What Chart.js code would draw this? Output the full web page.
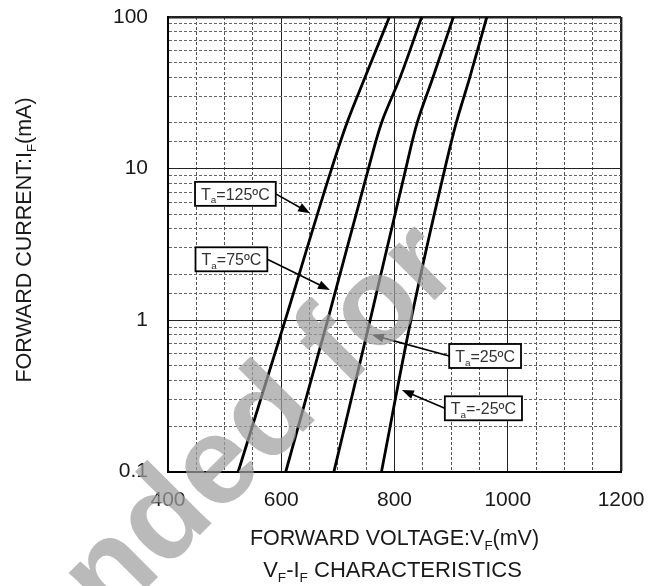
<!DOCTYPE html>
<html>
<head>
<meta charset="utf-8">
<script src="https://cdn.jsdelivr.net/npm/chart.js@4/dist/chart.umd.min.js"></script>
<style>
  html, body { margin: 0; padding: 0; background: #fff; }
  #wrap { width: 666px; height: 586px; }
</style>
</head>
<body>
<div id="wrap"><canvas id="vfif" width="666" height="586"></canvas></div>
<script>
// forward current points (mA), shared by every curve
var currentMA = [0.1, 1, 10, 20, 40, 100];
// forward voltage (mV) at those currents
var vf125 = [524, 607, 689, 716, 748, 791];
var vf75 = [608, 682, 754, 777, 810, 848];
var vf25 = [693, 757, 820, 840, 868, 904];
var vfMinus25 = [777, 829, 889, 909, 933, 963];
var tempLabels = ["125", "75", "25", "-25"];
// tick labels
var xTickLabels = [400, 600, 800, 1000, 1200];
var yTickLabels = [0.1, 1, 10, 100];

var FONT = "'Liberation Sans', Arial, sans-serif";
var INK = "#1a1a1a";

function toPoints(vf) {
  return vf.map(function(v, i) { return { x: v, y: currentMA[i] }; });
}

// where the call-out boxes sit and where their arrows point (data units)
var callouts = [
  { box: [519, 6.81], tip: [651, 5.08] },
  { box: [512, 2.52], tip: [686, 1.58] },
  { box: [960, 0.58], tip: [760, 0.80] },
  { box: [957, 0.262], tip: [813, 0.346] }
];

function isDecade(v) {
  var l = Math.log10(v);
  return Math.abs(l - Math.round(l)) < 1e-6;
}

// draw a run of text pieces, some of them subscripts
function runWidth(ctx, parts, size) {
  var w = 0;
  parts.forEach(function(p) {
    ctx.font = (p.sub ? size * 0.62 : size) + "px " + FONT;
    w += ctx.measureText(p.t).width;
  });
  return w;
}
function drawRun(ctx, parts, x, y, size) {
  var cx = x;
  parts.forEach(function(p) {
    ctx.font = (p.sub ? size * 0.62 : size) + "px " + FONT;
    ctx.fillText(p.t, cx, p.sub ? y + size * 0.22 : y);
    cx += ctx.measureText(p.t).width;
  });
}

var textPlugin = {
  id: "texts",
  afterDatasetsDraw: function(chart) {
    var ctx = chart.ctx;
    var xs = chart.scales.x, ys = chart.scales.y;
    ctx.save();
    callouts.forEach(function(c, i) {
      var bx = xs.getPixelForValue(c.box[0]);
      var by = ys.getPixelForValue(c.box[1]);
      var tx = xs.getPixelForValue(c.tip[0]);
      var ty = ys.getPixelForValue(c.tip[1]);
      var parts = [{ t: "T" }, { t: "a", sub: true }, { t: "=" + tempLabels[i] + "\u00baC" }];
      var tw = runWidth(ctx, parts, 16);
      var w = tw + 12, h = 24;
      var left = bx - w / 2, top = by - h / 2;
      var sx = tx > bx ? left + w : left;
      // arrow shaft
      ctx.strokeStyle = "#000";
      ctx.lineWidth = 1.6;
      var ang = Math.atan2(ty - by, tx - sx);
      var hl = 12, hw = 4.5;
      ctx.beginPath();
      ctx.moveTo(sx, by);
      ctx.lineTo(tx - Math.cos(ang) * hl * 0.8, ty - Math.sin(ang) * hl * 0.8);
      ctx.stroke();
      ctx.fillStyle = "#000";
      ctx.beginPath();
      ctx.moveTo(tx, ty);
      ctx.lineTo(tx - Math.cos(ang) * hl - Math.sin(ang) * hw, ty - Math.sin(ang) * hl + Math.cos(ang) * hw);
      ctx.lineTo(tx - Math.cos(ang) * hl + Math.sin(ang) * hw, ty - Math.sin(ang) * hl - Math.cos(ang) * hw);
      ctx.closePath();
      ctx.fill();
      // box
      ctx.fillStyle = "#fff";
      ctx.fillRect(left, top, w, h);
      ctx.lineWidth = 1.8;
      ctx.strokeRect(left, top, w, h);
      ctx.fillStyle = "#333";
      ctx.textBaseline = "alphabetic";
      ctx.textAlign = "left";
      drawRun(ctx, parts, left + 6, top + 18, 16);
    });
    ctx.restore();
  },
  afterDraw: function(chart) {
    var ctx = chart.ctx;
    var area = chart.chartArea;
    var cx = (area.left + area.right) / 2;
    ctx.save();
    ctx.fillStyle = INK;
    ctx.textAlign = "left";
    ctx.textBaseline = "alphabetic";
    var xt = [{ t: "FORWARD VOLTAGE:V" }, { t: "F", sub: true }, { t: "(mV)" }];
    var w = runWidth(ctx, xt, 21.5);
    drawRun(ctx, xt, cx - w / 2, 545, 21.5);
    var tt = [{ t: "V" }, { t: "F", sub: true }, { t: "-I" }, { t: "F", sub: true }, { t: " CHARACTERISTICS" }];
    w = runWidth(ctx, tt, 22);
    drawRun(ctx, tt, cx - 2 - w / 2, 577, 22);
    // y title, rotated
    ctx.translate(31, 240);
    ctx.rotate(-Math.PI / 2);
    var yt = [{ t: "FORWARD CURRENT:I" }, { t: "F", sub: true }, { t: "(mA)" }];
    w = runWidth(ctx, yt, 21.5);
    drawRun(ctx, yt, -w / 2, 0, 21.5);
    ctx.restore();

    // watermark over everything
    ctx.save();
    ctx.translate(463, 272);
    ctx.rotate(-Math.PI / 4);
    ctx.font = "bold 125px " + FONT;
    ctx.fillStyle = "rgba(160,160,160,0.72)";
    ctx.textAlign = "right";
    ctx.textBaseline = "alphabetic";
    ctx.fillText("Recommended for", 0, 0);
    ctx.restore();
  }
};

var lineStyle = {
  showLine: true,
  indexAxis: "y",
  borderColor: "#000",
  borderWidth: 2.8,
  pointRadius: 0,
  cubicInterpolationMode: "monotone",
  fill: false
};

function dashFor(major) {
  return function(c) { return c.tick && !major(c.tick.value) ? [3, 2] : []; };
}
var xMajor = function(v) { return v % 200 === 0; };

var dataGraph = {
  type: "scatter",
  data: {
    datasets: [vf125, vf75, vf25, vfMinus25].map(function(vf, i) {
      return Object.assign({ label: "Ta=" + tempLabels[i] + "\u00baC", data: toPoints(vf) }, lineStyle);
    })
  },
  options: {
    responsive: false,
    animation: false,
    layout: { padding: { left: 0, right: 45, top: 17, bottom: 0 } },
    plugins: {
      legend: { display: false },
      tooltip: { enabled: false },
      title: { display: false }
    },
    scales: {
      x: {
        type: "linear",
        min: 400,
        max: 1200,
        afterFit: function(s) { s.height = 114.3; },
        border: { display: true, color: "#000", width: 2, dash: dashFor(xMajor) },
        grid: {
          drawTicks: false,
          color: function(c) { return c.tick && xMajor(c.tick.value) ? "#222" : "#555"; },
          lineWidth: function(c) { return c.tick && c.tick.value === 1200 ? 2.4 : 1; }
        },
        ticks: {
          stepSize: 50,
          autoSkip: false,
          maxRotation: 0,
          padding: 16,
          color: INK,
          font: { family: FONT, size: 21 },
          callback: function(value) {
            return xTickLabels.indexOf(value) >= 0 ? String(value) : "";
          }
        }
      },
      y: {
        type: "logarithmic",
        min: 0.1,
        max: 100,
        afterFit: function(s) { s.width = 168; s.paddingTop = 0; s.paddingBottom = 0; },
        border: { display: true, color: "#000", width: 2, dash: dashFor(isDecade) },
        grid: {
          drawTicks: false,
          color: function(c) { return c.tick && isDecade(c.tick.value) ? "#222" : "#666"; },
          lineWidth: function(c) { return c.tick && c.tick.value === 100 ? 2.4 : 1; }
        },
        ticks: {
          autoSkip: false,
          padding: 20,
          color: INK,
          font: { family: FONT, size: 21 },
          callback: function(value) {
            for (var i = 0; i < yTickLabels.length; i++) {
              if (Math.abs(value - yTickLabels[i]) < 1e-9) return String(yTickLabels[i]);
            }
            return "";
          }
        }
      }
    }
  },
  plugins: [textPlugin]
};

var myChart = new Chart(document.getElementById("vfif"), dataGraph);
</script>
</body>
</html>
